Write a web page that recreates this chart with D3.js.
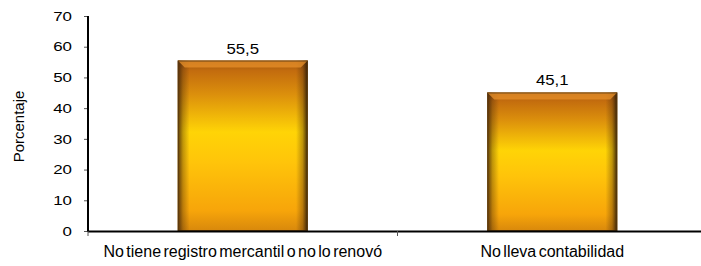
<!DOCTYPE html>
<html>
<head>
<meta charset="utf-8">
<script src="https://cdn.jsdelivr.net/npm/d3@7"></script>
<style>
  body { margin: 0; background: #fff; }
  svg { display: block; font-family: "Liberation Sans", Arial, sans-serif; }
</style>
</head>
<body>
<svg id="chart" width="701" height="266"></svg>
<script>
(function() {

	var categories = ['No tiene registro mercantil o no lo renovó', 'No lleva contabilidad'];
	var values = [55.5, 45.1];
	var yTicks = [0, 10, 20, 30, 40, 50, 60, 70];
	var yTitle = 'Porcentaje';

	var X0 = 88, X1 = 707, Y0 = 231, Y1 = 16;
	var FONT = '"Liberation Sans", Arial, sans-serif';

	var svg = d3.select('#chart');

	var x = d3.scaleBand().domain(categories).range([X0, X1]).paddingInner(0.58).paddingOuter(0.29);
	var y = d3.scaleLinear().domain([0, 70]).range([Y0, Y1]);
	var fmt = function(v) { return d3.format('.1f')(v).replace('.', ','); };

	var defs = svg.append('defs');
	var vg = defs.append('linearGradient').attr('id', 'gold').attr('x1', 0).attr('y1', 0).attr('x2', 0).attr('y2', 1);
	[[0, '#9a5410'], [0.06, '#c36c0e'], [0.2, '#dc900c'], [0.42, '#ffd406'], [0.6, '#ffc40a'], [0.88, '#f7a50a'], [1, '#d8880c']]
		.forEach(function(s) { vg.append('stop').attr('offset', s[0]).attr('stop-color', s[1]); });
	var hg = defs.append('linearGradient').attr('id', 'edge').attr('x1', 0).attr('y1', 0).attr('x2', 1).attr('y2', 0);
	[[0, 'rgb(70,40,10)', 0.9], [0.04, 'rgb(70,40,10)', 0.35], [0.09, 'rgb(70,40,10)', 0], [0.91, 'rgb(70,40,10)', 0], [0.96, 'rgb(70,40,10)', 0.35], [1, 'rgb(40,25,5)', 0.95]]
		.forEach(function(s) { hg.append('stop').attr('offset', s[0]).attr('stop-color', s[1]).attr('stop-opacity', s[2]); });

	// y axis
	var yAxis = svg.append('g').attr('transform', 'translate(' + X0 + ',0)')
		.call(d3.axisLeft(y).tickValues(yTicks).tickSize(4).tickPadding(13));
	yAxis.select('.domain').remove();
	yAxis.selectAll('.tick line').attr('stroke', '#555');
	yAxis.selectAll('.tick text')
		.attr('font-size', 13).attr('fill', '#000').attr('font-family', FONT)
		.attr('x', 0).attr('transform', 'translate(-16,0) scale(1.3,1)');
	svg.append('line').attr('x1', X0).attr('x2', X0).attr('y1', Y1).attr('y2', Y0 + 1).attr('stroke', '#000').attr('stroke-width', 2);

	svg.append('text')
		.attr('transform', 'translate(24,' + ((Y0 + Y1) / 2 + 3) + ') rotate(-90)')
		.attr('text-anchor', 'middle').attr('font-size', 15)
		.text(yTitle);

	// bars
	var bars = svg.selectAll('g.bar').data(values).enter().append('g').attr('class', 'bar');
	bars.append('rect')
		.attr('x', function(d, i) { return x(categories[i]); })
		.attr('y', function(d) { return y(d); })
		.attr('width', x.bandwidth())
		.attr('height', function(d) { return Y0 - y(d); })
		.attr('fill', 'url(#gold)');
	bars.append('rect')
		.attr('x', function(d, i) { return x(categories[i]); })
		.attr('y', function(d) { return y(d); })
		.attr('width', x.bandwidth())
		.attr('height', function(d) { return Y0 - y(d); })
		.attr('fill', 'url(#edge)');
	// top bevel
	bars.append('path')
		.attr('d', function(d, i) {
			var l = x(categories[i]), r = l + x.bandwidth(), t = y(d), b = 7;
			return 'M' + l + ',' + t + 'L' + r + ',' + t + 'L' + (r - b) + ',' + (t + b) + 'L' + (l + b) + ',' + (t + b) + 'Z';
		})
		.attr('fill', '#e8902a').attr('opacity', 0.75);
	bars.append('rect')
		.attr('x', function(d, i) { return x(categories[i]) + 0.5; })
		.attr('y', function(d) { return y(d) + 0.5; })
		.attr('width', x.bandwidth() - 1)
		.attr('height', function(d) { return Y0 - y(d) - 1; })
		.attr('fill', 'none').attr('stroke', '#5a3a10').attr('stroke-opacity', 0.8);

	bars.append('text')
		.attr('transform', function(d, i) {
			return 'translate(' + (x(categories[i]) + x.bandwidth() / 2) + ',' + (y(d) - 7) + ') scale(1.2,1)';
		})
		.attr('text-anchor', 'middle').attr('font-size', 14)
		.text(function(d) { return fmt(d); });

	// x axis
	var xAxis = svg.append('g').attr('transform', 'translate(0,' + Y0 + ')')
		.call(d3.axisBottom(x).tickSize(0).tickPadding(15));
	xAxis.select('.domain').remove();
	xAxis.selectAll('.tick text')
		.attr('font-size', 16).attr('fill', '#000').attr('font-family', FONT)
		.attr('word-spacing', '-2px');
	svg.append('line').attr('x1', X0).attr('x2', X1).attr('y1', Y0 + 0.5).attr('y2', Y0 + 0.5).attr('stroke', '#000').attr('stroke-width', 2);
	var bounds = [X0].concat(categories.map(function(c) { return x(c) + x.bandwidth() / 2 + x.step() / 2; }));
	svg.selectAll('line.xt').data(bounds).enter().append('line').attr('class', 'xt')
		.attr('x1', function(d) { return d; }).attr('x2', function(d) { return d; })
		.attr('y1', Y0).attr('y2', Y0 + 5).attr('stroke', '#555');

}());
</script>
</body>
</html>
